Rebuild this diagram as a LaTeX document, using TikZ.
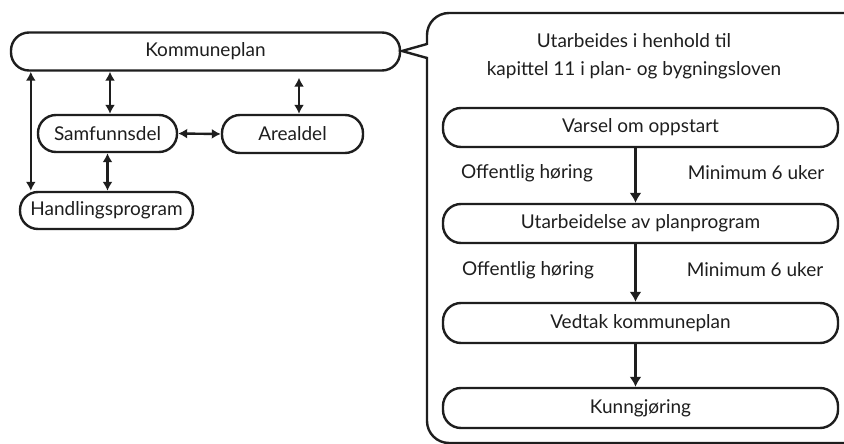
\documentclass[tikz,border=0pt]{standalone}
\usepackage{fontspec}
\setmainfont{Lato}
\usetikzlibrary{arrows.meta,calc}
\definecolor{ink}{HTML}{1E1E1E}
\tikzset{
  pill/.style={draw=ink, line width=2.4pt, rounded corners=18pt, minimum height=38pt,
    inner sep=0pt, text=ink, font=\fontsize{19}{24}\selectfont},
  lbl/.style={text=ink, inner sep=0pt, font=\fontsize{19}{24}\selectfont},
  link/.style={draw=ink, line width=2.4pt, {Latex[length=9pt,width=10pt]}-{Latex[length=9pt,width=10pt]}},
  flow/.style={draw=ink, line width=3pt, -{Latex[length=10pt,width=12pt]}},
  frame/.style={draw=ink, line width=2.4pt}
}
\begin{document}
\begin{tikzpicture}[x=1pt,y=-1pt]
\useasboundingbox (0,0) rectangle (844,444);
\fill[white] (0,0) rectangle (844,444);

% municipal plan and its parts
\node[pill, minimum width=389pt] (komm) at (205.5,51.5) {Kommuneplan};
\node[pill, minimum width=139pt, minimum height=37pt] (samf) at (107.5,133.5) {Samfunnsdel};
\node[pill, minimum width=141pt] (areal) at (292.5,134) {Arealdel};
\node[pill, minimum width=173pt, minimum height=37pt] (hand) at (106.5,210.5) {Handlingsprogram};

\draw[link] ($(komm.south west)+(21,0)$) -- ($(hand.north west)+(12,0)$);
\draw[link] ($(komm.south)!(samf.north)!(komm.south west)$) ++(2.5,0) coordinate (ks) -- (ks |- samf.north);
\draw[link, shorten <=6pt] ($(komm.south)!(areal.north)!(komm.south west)$) ++(6.5,0) coordinate (ka) -- (ka |- areal.north);
\draw[link] (samf.east) -- (areal.west);
\draw[link] (samf.south) -- (hand.north -| samf.south);

% callout frame
\coordinate (tip) at (402,51);
\draw[frame, rounded corners=22pt] (870,13) -- (427,13) -- (427,45);
\draw[frame, line join=miter] (427,44) -- (tip) -- (427,58);
\draw[frame, rounded corners=22pt] (427,57) -- (427,443) -- (870,443);

\node[lbl, align=center, font=\fontsize{19}{28}\selectfont] (head) at (634,56) {Utarbeides i henhold til\\kapittel 11 i plan- og bygningsloven};

% procedure steps
\node[pill, minimum width=395pt, minimum height=39pt] (s1) at (640.5,127.5) {Varsel om oppstart};
\node[pill, minimum width=395pt, minimum height=39pt] (s2) at (640.5,223.5) {Utarbeidelse av planprogram};
\node[pill, minimum width=395pt, minimum height=40pt] (s3) at (640.5,323) {Vedtak kommuneplan};
\node[pill, minimum width=395pt, minimum height=40pt] (s4) at (640.5,408) {Kunngjøring};

\draw[flow] ([xshift=-5pt]s1.south) -- ([xshift=-5pt]s2.north);
\draw[flow] ([xshift=-5pt]s2.south) -- ([xshift=-5pt]s3.north);
\draw[flow] ([xshift=-5pt]s3.south) -- ([xshift=-5pt]s4.north);

\node[lbl] (h1) at (527,173) {Offentlig høring};
\node[lbl] (m1) at (756,173) {Minimum 6 uker};
\node[lbl] (h2) at (528,270) {Offentlig høring};
\node[lbl] (m2) at (755,270) {Minimum 6 uker};
\end{tikzpicture}
\end{document}
